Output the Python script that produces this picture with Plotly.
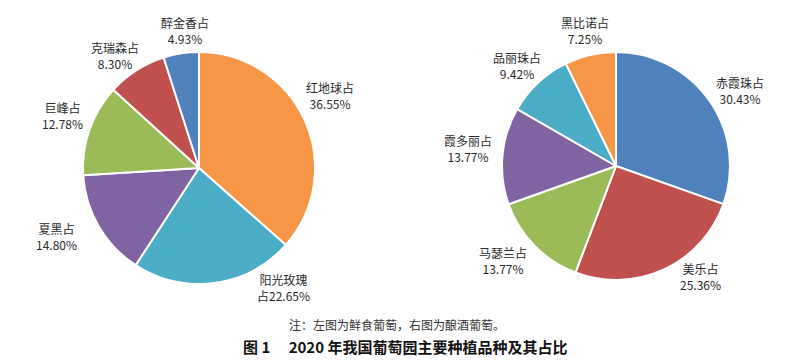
import plotly.graph_objects as go

# ---- data ----
left_labels = ["红地球占", "阳光玫瑰占", "夏黑占", "巨峰占", "克瑞森占", "醉金香占"]
left_values = [36.55, 22.65, 14.80, 12.78, 8.30, 4.93]
right_labels = ["赤霞珠占", "美乐占", "马瑟兰占", "霞多丽占", "品丽珠占", "黑比诺占"]
right_values = [30.43, 25.36, 13.77, 13.77, 9.42, 7.25]

note_text = "注：左图为鲜食葡萄，右图为酿酒葡萄。"
title_text = "图 1\u3000 2020 年我国葡萄园主要种植品种及其占比"

# ---- styles ----
W, H = 800, 362
left_colors = ["#F79646", "#4BACC6", "#8064A2", "#9BBB59", "#C0504D", "#4F81BD"]
right_colors = ["#4F81BD", "#C0504D", "#9BBB59", "#8064A2", "#4BACC6", "#F79646"]
FONT = "Noto Sans CJK SC"
TXT = "#2a2a2a"

def px(x):
    return x / W

def py(y):
    return 1 - y / H

fig = go.Figure()
fig.add_trace(go.Pie(
    labels=left_labels, values=left_values, sort=False, direction="clockwise",
    rotation=0, textinfo="none", hoverinfo="label+value",
    marker=dict(colors=left_colors, line=dict(color="white", width=2)),
    domain=dict(x=[px(83), px(315)], y=[py(284), py(52)]),
    showlegend=False,
))
fig.add_trace(go.Pie(
    labels=right_labels, values=right_values, sort=False, direction="clockwise",
    rotation=0, textinfo="none", hoverinfo="label+value",
    marker=dict(colors=right_colors, line=dict(color="white", width=2)),
    domain=dict(x=[px(502), px(730)], y=[py(280), py(52)]),
    showlegend=False,
))

# label placement (pixel centers of each text block), layout only
left_pos = [(330, 95), (283, 287), (57, 236), (62, 115), (115, 55), (185, 30)]
right_pos = [(740, 90), (700, 276), (503, 260), (468, 148), (517, 66), (585, 30)]

def label_text(name, v):
    if name == "阳光玫瑰占":
        return "阳光玫瑰<br>占%.2f%%" % v
    return "%s<br>%.2f%%" % (name, v)

annos = []
for names, vals, pos in ((left_labels, left_values, left_pos), (right_labels, right_values, right_pos)):
    for n, v, (x, y) in zip(names, vals, pos):
        annos.append(dict(x=px(x), y=py(y), xref="paper", yref="paper",
                          text=label_text(n, v), showarrow=False,
                          font=dict(family=FONT, size=12, color=TXT),
                          xanchor="center", yanchor="middle", align="center"))

annos.append(dict(x=px(397), y=py(324), xref="paper", yref="paper", text=note_text,
                  showarrow=False, font=dict(family=FONT, size=12, color="#333333"),
                  xanchor="center", yanchor="middle"))
annos.append(dict(x=px(405), y=py(346), xref="paper", yref="paper", text="<b>" + title_text + "</b>",
                  showarrow=False, font=dict(family=FONT, size=15, color="#111111"),
                  xanchor="center", yanchor="middle"))

fig.update_layout(
    width=W, height=H,
    margin=dict(l=0, r=0, t=0, b=0),
    paper_bgcolor="white", plot_bgcolor="white",
    annotations=annos,
)

fig.write_html("out.html", config={"displayModeBar": False},
               post_script="document.body.style.margin='0';document.body.style.overflow='hidden';")
